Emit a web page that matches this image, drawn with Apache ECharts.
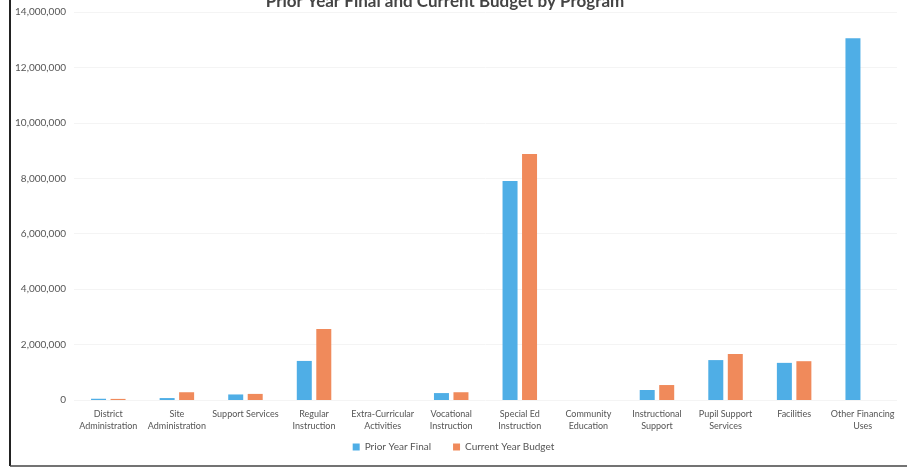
<!DOCTYPE html>
<html>
<head>
<meta charset="utf-8">
<script src="https://cdn.jsdelivr.net/npm/echarts@6/dist/echarts.min.js"></script>
<style>
  html, body { margin: 0; padding: 0; background: #fff; }
  #container { width: 907px; height: 467px; }
</style>
</head>
<body>
<div id="container"></div>
<script>
var dom = document.getElementById('container');
var myChart = echarts.init(dom, null, { renderer: 'canvas' });

// categories (x axis)
var programs = [
    'District\nAdministration', 'Site\nAdministration', 'Support Services',
    'Regular\nInstruction', 'Extra-Curricular\nActivities', 'Vocational\nInstruction',
    'Special Ed\nInstruction', 'Community\nEducation', 'Instructional\nSupport',
    'Pupil Support\nServices', 'Facilities', 'Other Financing\nUses'
];

// values
var priorYearFinal = [45000, 70000, 200000, 1410000, 0, 250000, 7900000, 0, 360000, 1440000, 1340000, 13050000];
var currentYearBudget = [40000, 280000, 220000, 2560000, 0, 280000, 8880000, 0, 540000, 1660000, 1400000, 0];

var seriesNames = ['Prior Year Final', 'Current Year Budget'];
var yTicks = { min: 0, max: 14000000, interval: 2000000 };

var textFont = 'Lato';

var option = {
    color: ['#4FAEE6', '#F08A5B'],
    textStyle: { fontFamily: textFont },
    title: {
        text: 'Prior Year Final and Current Budget by Program',
        left: 440,
        textAlign: 'center',
        top: -12,
        textStyle: { fontSize: 17, fontWeight: 'bold', color: '#444', fontFamily: textFont }
    },
    legend: {
        bottom: 10,
        left: 'center',
        itemWidth: 7,
        itemHeight: 7,
        itemGap: 22,
        icon: 'rect',
        textStyle: { fontSize: 10, color: '#555' },
        data: seriesNames
    },
    grid: {
        left: 74,
        right: 10,
        top: 12,
        bottom: 67,
        containLabel: false
    },
    xAxis: {
        type: 'category',
        data: programs,
        axisLine: { show: false },
        axisTick: { show: false },
        axisLabel: {
            interval: 0,
            fontSize: 9,
            color: '#555',
            lineHeight: 12,
            margin: 8
        }
    },
    yAxis: {
        type: 'value',
        min: yTicks.min,
        max: yTicks.max,
        interval: yTicks.interval,
        axisLine: { show: false },
        axisTick: { show: false },
        splitLine: { show: true, lineStyle: { color: '#f4f4f4', width: 1 } },
        axisLabel: {
            fontSize: 10,
            color: '#555',
            margin: 8,
            formatter: function (v) { return v.toLocaleString('en-US'); }
        }
    },
    series: [
        {
            name: seriesNames[0],
            type: 'bar',
            data: priorYearFinal,
            barWidth: 15,
            barGap: '30%'
        },
        {
            name: seriesNames[1],
            type: 'bar',
            data: currentYearBudget,
            barWidth: 15,
            barGap: '30%'
        }
    ],
    graphic: [
        {
            type: 'line',
            shape: { x1: 10, y1: 0, x2: 10, y2: 466 },
            style: { stroke: '#222', lineWidth: 2 }
        },
        {
            type: 'line',
            shape: { x1: 10, y1: 466, x2: 907, y2: 466 },
            style: { stroke: '#444', lineWidth: 1.5 }
        }
    ]
};

myChart.setOption(option);
window.addEventListener('resize', myChart.resize);
</script>
</body>
</html>
